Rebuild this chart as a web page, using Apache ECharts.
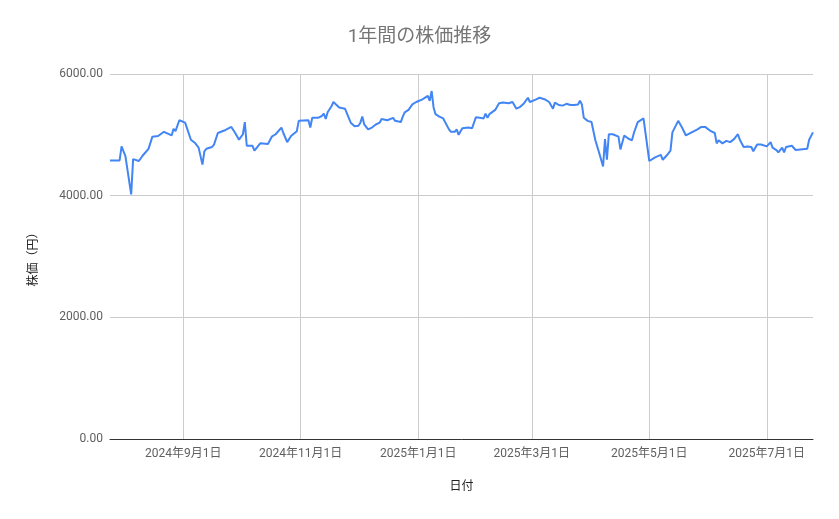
<!DOCTYPE html>
<html>
<head>
<meta charset="utf-8">
<script src="https://cdn.jsdelivr.net/npm/echarts@6/dist/echarts.min.js"></script>
<style>
html,body{margin:0;padding:0;background:#fff;}
#chart{width:839px;height:519px;}
</style>
</head>
<body>
<div id="chart"></div>
<script>
const titleText = '1年間の株価推移';
const xAxisName = '日付';
const yAxisName = '株価（円）';
const xMin = '2024-07-25';
const xMax = '2025-07-25';
const xTickDates = ['2024-09-01','2024-11-01','2025-01-01','2025-03-01','2025-05-01','2025-07-01'];
const yTicks = [0, 2000, 4000, 6000];

const dates = [
'2024-07-25','2024-07-26','2024-07-30','2024-07-31','2024-08-01','2024-08-02','2024-08-05','2024-08-06','2024-08-09','2024-08-11',
'2024-08-14','2024-08-16','2024-08-17','2024-08-19','2024-08-22','2024-08-23','2024-08-26','2024-08-27','2024-08-28','2024-08-30',
'2024-08-31','2024-09-02','2024-09-05','2024-09-07','2024-09-09','2024-09-11','2024-09-12','2024-09-13','2024-09-16','2024-09-17',
'2024-09-19','2024-09-20','2024-09-23','2024-09-24','2024-09-26','2024-09-28','2024-09-30','2024-10-02','2024-10-03','2024-10-04',
'2024-10-07','2024-10-08','2024-10-09','2024-10-11','2024-10-15','2024-10-16','2024-10-17','2024-10-19','2024-10-20','2024-10-22',
'2024-10-23','2024-10-25','2024-10-27','2024-10-30','2024-10-31','2024-11-01','2024-11-05','2024-11-06','2024-11-07','2024-11-10',
'2024-11-12','2024-11-13','2024-11-14','2024-11-15','2024-11-17','2024-11-18','2024-11-19','2024-11-21','2024-11-24','2024-11-25',
'2024-11-27','2024-11-28','2024-11-29','2024-12-01','2024-12-02','2024-12-03','2024-12-04','2024-12-06','2024-12-08','2024-12-10',
'2024-12-12','2024-12-13','2024-12-16','2024-12-17','2024-12-19','2024-12-20','2024-12-23','2024-12-24','2024-12-25','2024-12-27',
'2024-12-29','2024-12-31','2025-01-03','2025-01-06','2025-01-07','2025-01-08','2025-01-09','2025-01-10','2025-01-12','2025-01-14',
'2025-01-15','2025-01-17','2025-01-18','2025-01-20','2025-01-21','2025-01-22','2025-01-23','2025-01-24','2025-01-27','2025-01-29',
'2025-01-31','2025-02-02','2025-02-04','2025-02-05','2025-02-06','2025-02-07','2025-02-10','2025-02-12','2025-02-14','2025-02-17',
'2025-02-19','2025-02-21','2025-02-23','2025-02-25','2025-02-27','2025-02-28','2025-03-03','2025-03-05','2025-03-08','2025-03-10',
'2025-03-12','2025-03-13','2025-03-15','2025-03-17','2025-03-19','2025-03-21','2025-03-23','2025-03-25','2025-03-26','2025-03-27',
'2025-03-28','2025-03-30','2025-03-31','2025-04-01','2025-04-03','2025-04-05','2025-04-07','2025-04-08','2025-04-09','2025-04-10',
'2025-04-12','2025-04-15','2025-04-16','2025-04-18','2025-04-20','2025-04-22','2025-04-23','2025-04-25','2025-04-28','2025-04-29',
'2025-05-01','2025-05-02','2025-05-04','2025-05-07','2025-05-08','2025-05-10','2025-05-12','2025-05-13','2025-05-14','2025-05-16',
'2025-05-18','2025-05-20','2025-05-23','2025-05-26','2025-05-28','2025-05-30','2025-05-31','2025-06-02','2025-06-03','2025-06-04',
'2025-06-05','2025-06-06','2025-06-08','2025-06-10','2025-06-12','2025-06-14','2025-06-16','2025-06-17','2025-06-19','2025-06-21',
'2025-06-22','2025-06-23','2025-06-24','2025-06-26','2025-06-28','2025-07-01','2025-07-03','2025-07-04','2025-07-06','2025-07-07',
'2025-07-09','2025-07-10','2025-07-11','2025-07-14','2025-07-16','2025-07-17','2025-07-22','2025-07-23','2025-07-25'
];
const prices = [
4580,4550,4580,4810,4810,4650,4020,4600,4570,4660,
4770,4970,4980,4980,5050,5040,4990,5100,5060,5240,
5220,5200,4920,4870,4790,4510,4730,4770,4800,4840,
5030,5020,5080,5110,5130,5030,4920,5010,5210,4820,
4820,4740,4760,4860,4850,4840,4970,5010,5030,5120,
5030,4880,4980,5060,5230,5200,5240,5120,5280,5280,
5310,5350,5260,5370,5470,5540,5530,5450,5430,5420,
5200,5200,5140,5150,5200,5300,5170,5090,5120,5170,
5200,5260,5240,5220,5280,5230,5210,5300,5370,5410,
5500,5540,5580,5640,5560,5720,5450,5340,5300,5270,
5280,5090,5050,5050,5090,5000,5060,5110,5120,5110,
5290,5280,5270,5350,5280,5340,5410,5520,5530,5520,
5540,5430,5460,5520,5610,5540,5580,5610,5580,5540,
5430,5530,5490,5480,5510,5490,5490,5500,5560,5500,
5280,5230,5200,5210,4910,4700,4480,4930,4590,5010,
5010,4970,4760,4990,4940,4910,5030,5210,5270,5280,
4570,4590,4630,4670,4590,4660,4740,5040,5010,5230,
5120,4990,5040,5090,5130,5130,5100,5060,5080,5030,
4860,4910,4860,4900,4880,4930,5010,4920,4800,4810,
4800,4800,4730,4840,4840,4810,4880,4790,4750,4710,
4790,4710,4800,4820,4750,4770,4770,4920,5040
];

const FONT = "Roboto, 'Noto Sans CJK JP', sans-serif";
const ts = s => Date.parse(s + 'T00:00:00Z');
const seriesData = dates.map((d, i) => [ts(d), prices[i]]);
const xTickValues = xTickDates.map(ts);

const chart = echarts.init(document.getElementById('chart'));
chart.setOption({
  animation: false,
  backgroundColor: '#ffffff',
  title: {
    text: titleText,
    left: 'center',
    top: 28,
    padding: 0,
    textStyle: { fontFamily: FONT, fontSize: 19, fontWeight: 'normal', color: '#757575' }
  },
  grid: { left: 110, right: 26, top: 74, bottom: 80, containLabel: false },
  xAxis: {
    type: 'value',
    min: ts(xMin),
    max: ts(xMax),
    name: xAxisName,
    nameLocation: 'middle',
    nameGap: 42,
    nameTextStyle: { fontFamily: FONT, fontSize: 12, color: '#222' },
    axisLine: { show: true, onZero: false, lineStyle: { color: '#333', width: 1 } },
    axisTick: { show: false, customValues: xTickValues },
    axisLabel: {
      customValues: xTickValues,
      margin: 9,
      fontFamily: FONT,
      fontSize: 12,
      color: '#5f5f5f',
      formatter: function (v) {
        const d = new Date(v);
        return d.getUTCFullYear() + '年' + (d.getUTCMonth() + 1) + '月' + d.getUTCDate() + '日';
      }
    },
    splitLine: { show: true, lineStyle: { color: '#cccccc', width: 1 } }
  },
  yAxis: {
    type: 'value',
    min: yTicks[0],
    max: yTicks[yTicks.length - 1],
    interval: yTicks[1] - yTicks[0],
    name: yAxisName,
    nameLocation: 'middle',
    nameGap: 70,
    nameTextStyle: { fontFamily: FONT, fontSize: 12, color: '#222' },
    axisLine: { show: false },
    axisTick: { show: false },
    axisLabel: {
      margin: 7,
      fontFamily: FONT,
      fontSize: 12,
      color: '#5f5f5f',
      formatter: v => v.toFixed(2)
    },
    splitLine: { show: true, lineStyle: { color: '#cccccc', width: 1 } }
  },
  series: [{
    type: 'line',
    data: seriesData,
    showSymbol: false,
    symbol: 'none',
    lineStyle: { color: '#4285F4', width: 2 },
    itemStyle: { color: '#4285F4' }
  }]
});
</script>
</body>
</html>
